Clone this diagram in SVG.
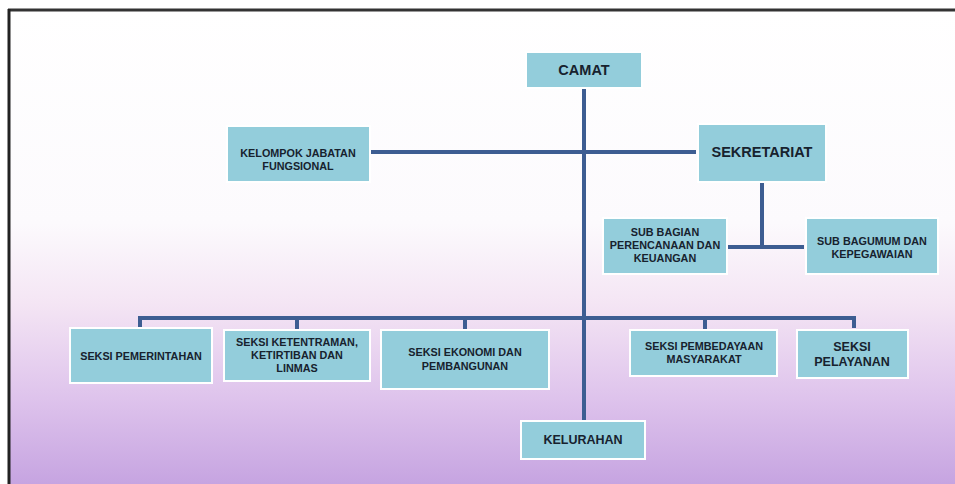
<svg xmlns="http://www.w3.org/2000/svg" width="955" height="484" viewBox="0 0 955 484">
  <defs>
    <linearGradient id="bg" x1="0" y1="0" x2="0" y2="1">
      <stop offset="0" stop-color="#ffffff"/>
      <stop offset="0.45" stop-color="#fcfafd"/>
      <stop offset="0.62" stop-color="#f4e5f4"/>
      <stop offset="0.82" stop-color="#dec3ec"/>
      <stop offset="1" stop-color="#c6a4e1"/>
    </linearGradient>
  </defs>
  <style>
    .box { fill: #93cddb; stroke: #ffffff; stroke-width: 2; }
    .t { font-family: "Liberation Sans", Arial, sans-serif; font-weight: bold; fill: #17222e; text-anchor: middle; font-size: 10.8px; }
    .big { font-size: 14.5px; }
    .mid { font-size: 12.5px; }
    .ln { stroke: #3d5d92; stroke-width: 4; fill: none; stroke-linecap: butt; }
  </style>
  <rect x="0" y="0" width="955" height="484" fill="#ffffff"/>
  <rect x="9" y="10" width="946" height="474" fill="url(#bg)"/>
  <line x1="8" y1="10" x2="955" y2="10" stroke="#333" stroke-width="3"/>
  <line x1="9" y1="9" x2="9" y2="484" stroke="#222" stroke-width="3"/>

  <g id="connectors">
    <line class="ln" x1="584" y1="88" x2="584" y2="421"/>
    <line class="ln" x1="370" y1="152" x2="696" y2="152"/>
    <line class="ln" x1="762" y1="182" x2="762" y2="247"/>
    <line class="ln" x1="727" y1="247" x2="804" y2="247"/>
    <path class="ln" d="M140 328 V318 H854 V328"/>
    <line class="ln" x1="297" y1="318" x2="297" y2="329"/>
    <line class="ln" x1="465" y1="318" x2="465" y2="329"/>
    <line class="ln" x1="705" y1="318" x2="705" y2="329"/>
  </g>

  <g id="camat">
    <rect class="box" x="526" y="52" width="116" height="36"/>
    <text class="t big" x="584" y="75">CAMAT</text>
  </g>
  <g id="kelompok">
    <rect class="box" x="227" y="126" width="143" height="56"/>
    <text class="t" x="298" y="157">KELOMPOK JABATAN</text>
    <text class="t" x="298" y="170">FUNGSIONAL</text>
  </g>
  <g id="sekretariat">
    <rect class="box" x="698" y="124" width="128" height="58"/>
    <text class="t big" x="762" y="157">SEKRETARIAT</text>
  </g>
  <g id="sub-perencanaan">
    <rect class="box" x="603" y="218" width="124" height="56"/>
    <text class="t" x="665" y="236">SUB BAGIAN</text>
    <text class="t" x="665" y="249">PERENCANAAN DAN</text>
    <text class="t" x="665" y="262">KEUANGAN</text>
  </g>
  <g id="sub-umum">
    <rect class="box" x="806" y="218" width="132" height="56"/>
    <text class="t" x="872" y="245">SUB BAGUMUM DAN</text>
    <text class="t" x="872" y="258">KEPEGAWAIAN</text>
  </g>
  <g id="seksi-pemerintahan">
    <rect class="box" x="70" y="328" width="142" height="55"/>
    <text class="t" x="141" y="360">SEKSI PEMERINTAHAN</text>
  </g>
  <g id="seksi-ketentraman">
    <rect class="box" x="224" y="330" width="146" height="51"/>
    <text class="t" x="297" y="346">SEKSI KETENTRAMAN,</text>
    <text class="t" x="297" y="359">KETIRTIBAN DAN</text>
    <text class="t" x="297" y="372">LINMAS</text>
  </g>
  <g id="seksi-ekonomi">
    <rect class="box" x="381" y="330" width="168" height="59"/>
    <text class="t" x="465" y="356">SEKSI EKONOMI DAN</text>
    <text class="t" x="465" y="370">PEMBANGUNAN</text>
  </g>
  <g id="seksi-pembedayaan">
    <rect class="box" x="630" y="330" width="147" height="46"/>
    <text class="t" x="704" y="350">SEKSI PEMBEDAYAAN</text>
    <text class="t" x="704" y="363">MASYARAKAT</text>
  </g>
  <g id="seksi-pelayanan">
    <rect class="box" x="797" y="330" width="111" height="48"/>
    <text class="t mid" x="852" y="351">SEKSI</text>
    <text class="t mid" x="852" y="366">PELAYANAN</text>
  </g>
  <g id="kelurahan">
    <rect class="box" x="521" y="421" width="124" height="38"/>
    <text class="t mid" x="583" y="444">KELURAHAN</text>
  </g>
</svg>
